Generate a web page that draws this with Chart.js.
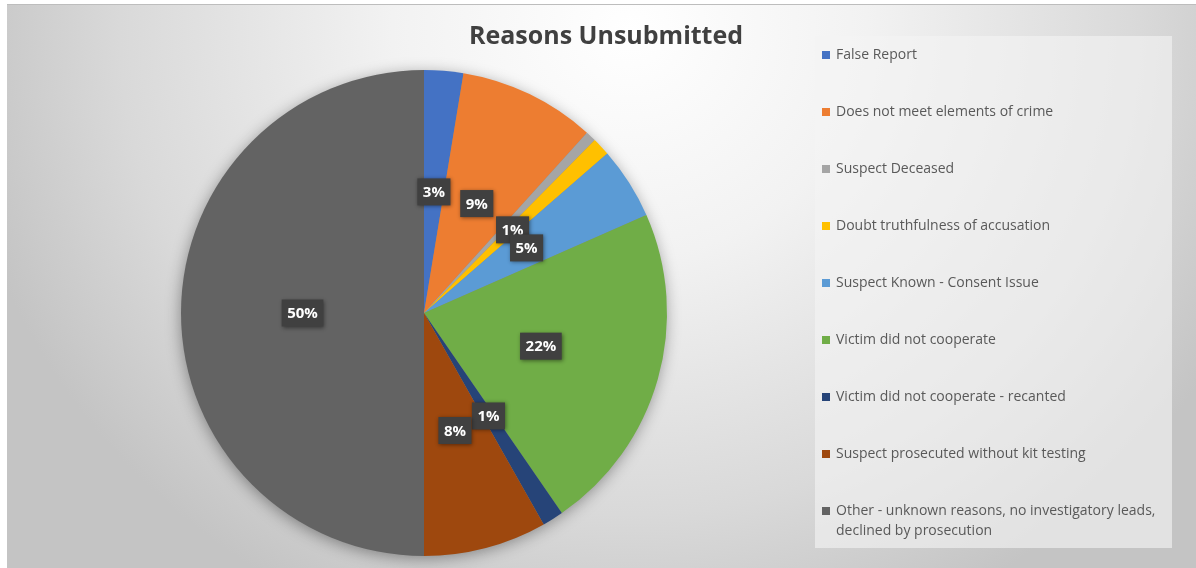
<!DOCTYPE html>
<html>
<head>
<meta charset="utf-8">
<script src="https://cdn.jsdelivr.net/npm/chart.js@4.4.1/dist/chart.umd.min.js"></script>
<style>
  html, body { margin: 0; padding: 0; background: #fff; }
  #wrap { width: 1196px; height: 568px; }
</style>
</head>
<body>
<div id="wrap"><canvas id="reasonsChart" width="1196" height="568"></canvas></div>
<script>
// data (share of unsubmitted kits, %)
const chartTitle = 'Reasons Unsubmitted';
const categories = [
  'False Report',
  'Does not meet elements of crime',
  'Suspect Deceased',
  'Doubt truthfulness of accusation',
  'Suspect Known - Consent Issue',
  'Victim did not cooperate',
  'Victim did not cooperate - recanted',
  'Suspect prosecuted without kit testing',
  'Other - unknown reasons, no investigatory leads, declined by prosecution'
];
const shares = [2.6, 9.1, 0.7, 1.2, 4.8, 22.0, 1.4, 8.2, 50.0];

const sliceColors = ['#4472C4', '#ED7D31', '#A5A5A5', '#FFC000', '#5B9BD5',
                     '#70AD47', '#264478', '#9E480E', '#636363'];

const FONT = '"Open Sans", "DejaVu Sans", sans-serif';

// background, pie shadow, title, labels and legend
const decor = {
  id: 'decor',
  beforeDraw(chart) {
    const ctx = chart.ctx;
    const W = chart.width, H = chart.height;
    ctx.save();
    ctx.fillStyle = '#ffffff';
    ctx.fillRect(0, 0, W, H);
    // soft radial backdrop, lightest near top middle
    ctx.save();
    ctx.beginPath();
    ctx.rect(7, 4, W - 7, H - 4);
    ctx.clip();
    ctx.translate(630, 30);
    ctx.scale(1, 0.95);
    const g = ctx.createRadialGradient(0, 0, 0, 0, 0, 680);
    g.addColorStop(0, '#ffffff');
    g.addColorStop(0.35, '#f2f2f2');
    g.addColorStop(0.75, '#d9d9d9');
    g.addColorStop(1, '#c4c4c4');
    ctx.fillStyle = g;
    ctx.fillRect(-700, -60, 1400, 800);
    ctx.restore();
    ctx.fillStyle = '#bdbdbd';
    ctx.fillRect(7, 4, W - 7, 1);
    ctx.restore();
  },
  beforeDatasetsDraw(chart) {
    const arc = chart.getDatasetMeta(0).data[0];
    if (!arc) return;
    const ctx = chart.ctx;
    ctx.save();
    ctx.shadowColor = 'rgba(0,0,0,0.4)';
    ctx.shadowBlur = 16;
    ctx.shadowOffsetX = -1;
    ctx.shadowOffsetY = 3;
    ctx.fillStyle = '#888';
    ctx.beginPath();
    ctx.arc(arc.x, arc.y, arc.outerRadius - 1, 0, Math.PI * 2);
    ctx.fill();
    ctx.restore();
  },
  afterDraw(chart) {
    const ctx = chart.ctx;
    const total = shares.reduce((a, b) => a + b, 0);
    ctx.save();

    // title
    ctx.fillStyle = '#404040';
    ctx.font = 'bold 25px ' + FONT;
    ctx.textAlign = 'center';
    ctx.textBaseline = 'alphabetic';
    ctx.fillText(chartTitle, 606, 44);

    // value labels in dark boxes
    ctx.font = 'bold 15px ' + FONT;
    ctx.textBaseline = 'middle';
    chart.getDatasetMeta(0).data.forEach((arc, i) => {
      if (shares[i] < 1) return;
      const txt = Math.round(shares[i] / total * 100) + '%';
      const p = arc.tooltipPosition();
      const w = ctx.measureText(txt).width + 11;
      const h = 27;
      ctx.save();
      ctx.shadowColor = 'rgba(0,0,0,0.45)';
      ctx.shadowBlur = 4;
      ctx.shadowOffsetX = 1;
      ctx.shadowOffsetY = 1;
      ctx.fillStyle = '#404040';
      ctx.fillRect(p.x - w / 2, p.y - h / 2, w, h);
      ctx.restore();
      ctx.fillStyle = '#ffffff';
      ctx.fillText(txt, p.x, p.y + 1);
    });

    // legend box
    const lx = 815, ly = 36, lw = 357, lh = 512;
    ctx.fillStyle = 'rgba(244,244,244,0.62)';
    ctx.fillRect(lx, ly, lw, lh);
    ctx.font = '14px ' + FONT;
    ctx.textAlign = 'left';
    ctx.textBaseline = 'middle';
    categories.forEach((name, i) => {
      const cy = 55 + i * 57;
      ctx.fillStyle = sliceColors[i];
      ctx.fillRect(822, cy - 4, 8, 8);
      ctx.fillStyle = '#595959';
      const words = name.split(' ');
      let line = '', lines = [];
      words.forEach(wd => {
        const test = line ? line + ' ' + wd : wd;
        if (ctx.measureText(test).width > 330 && line) { lines.push(line); line = wd; }
        else line = test;
      });
      lines.push(line);
      lines.forEach((ln, k) => ctx.fillText(ln, 836, cy + k * 20));
    });
    ctx.restore();
  }
};

new Chart(
  document.getElementById('reasonsChart'),
  {
    type: 'pie',
    data: {
      labels: categories,
      datasets: [
        {
          label: 'Reasons Unsubmitted',
          data: shares,
          backgroundColor: sliceColors,
          borderWidth: 0
        }
      ]
    },
    options: {
      responsive: false,
      animation: false,
      rotation: 0,
      layout: { padding: { left: 181, right: 529, top: 70, bottom: 12 } },
      plugins: {
        legend: { display: false },
        title: { display: false },
        tooltip: { enabled: false }
      }
    },
    plugins: [decor]
  }
);
</script>
</body>
</html>
